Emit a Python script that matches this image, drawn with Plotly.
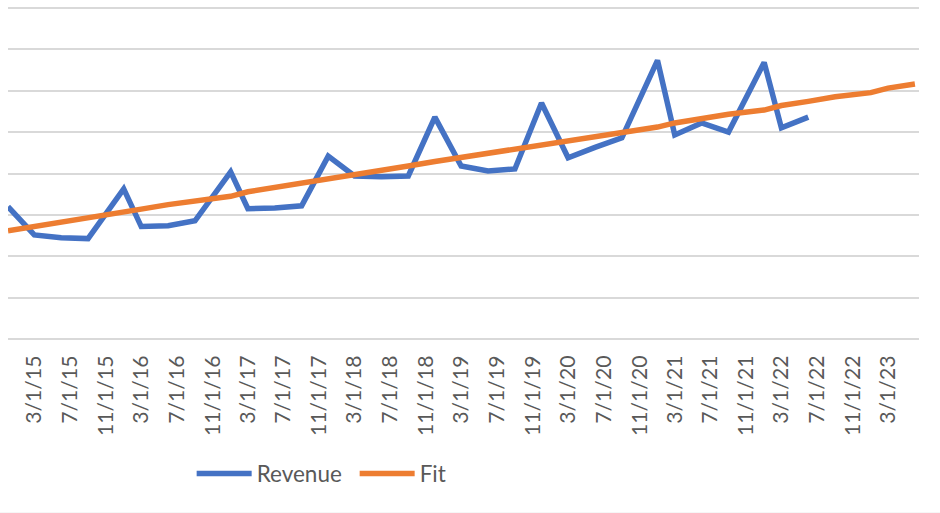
import plotly.graph_objects as go

dates = [
    "2014-12-01", "2015-03-01", "2015-06-01", "2015-09-01",
    "2016-01-01", "2016-03-01", "2016-06-01", "2016-09-01",
    "2017-01-01", "2017-03-01", "2017-06-01", "2017-09-01",
    "2017-12-01", "2018-03-01", "2018-06-01", "2018-09-01",
    "2018-12-01", "2019-03-01", "2019-06-01", "2019-09-01",
    "2019-12-01", "2020-03-01", "2020-06-01", "2020-09-01",
    "2021-01-01", "2021-03-01", "2021-06-01", "2021-09-01",
    "2022-01-01", "2022-03-01", "2022-06-01",
]
fit_dates = dates + ["2022-09-01", "2023-01-01", "2023-03-01", "2023-06-01"]

revenue = [
    3.20, 2.52, 2.45, 2.43,
    3.63, 2.72, 2.74, 2.86,
    4.04, 3.15, 3.17, 3.22,
    4.42, 3.94, 3.92, 3.94,
    5.36, 4.18, 4.06, 4.11,
    5.70, 4.38, 4.63, 4.86,
    6.73, 4.93, 5.22, 5.00,
    6.68, 5.10, 5.36,
]
fit = [
    2.62, 2.72, 2.83, 2.93, 3.04, 3.14, 3.25, 3.35, 3.45, 3.56,
    3.66, 3.77, 3.87, 3.97, 4.08, 4.18, 4.29, 4.39, 4.49, 4.60,
    4.70, 4.81, 4.91, 5.01, 5.12, 5.22, 5.33, 5.43, 5.53, 5.64,
    5.74, 5.85, 5.95, 6.06, 6.16,
]

FONT = "Lato, Carlito, Calibri, sans-serif"
GREY = "#595959"

fig = go.Figure()
fig.add_trace(go.Scatter(x=dates, y=revenue, name="Revenue", mode="lines",
                         line=dict(color="#4472C4", width=5.5)))
fig.add_trace(go.Scatter(x=fit_dates, y=fit, name="Fit", mode="lines",
                         line=dict(color="#ED7D31", width=5.5)))

fig.update_layout(
    width=940, height=513,
    margin=dict(l=8, r=21, t=6, b=172, autoexpand=False),
    paper_bgcolor="white", plot_bgcolor="white",
    font=dict(family=FONT, color=GREY, size=22),
    showlegend=True,
    legend=dict(orientation="h", x=0.2016, xanchor="left", y=-0.397, yanchor="middle",
                font=dict(family=FONT, size=22.5, color=GREY), itemwidth=55,
                entrywidth=93, bgcolor="rgba(0,0,0,0)"),
    xaxis=dict(type="date", range=["2014-12-01", "2023-06-15"], automargin=False,
               tick0="2015-03-01", dtick="M4", tickformat="%-m/%-d/%y",
               tickangle=-90, showgrid=False, zeroline=False, showline=False,
               ticks="outside", ticklen=5, tickcolor="rgba(0,0,0,0)",
               tickfont=dict(family=FONT, size=21.2, color=GREY)),
    yaxis=dict(range=[-0.04, 8.04], dtick=1, showticklabels=False, showgrid=True,
               automargin=False, gridcolor="#d9d9d9", gridwidth=1.5,
               zeroline=False, showline=False),
    shapes=[dict(type="line", xref="paper", yref="paper", x0=-0.01, x1=1.03,
                 y0=-0.515, y1=-0.515, line=dict(color="#d9d9d9", width=1.5))],
)

fig.write_html("out.html", config={"displayModeBar": False},
               post_script="document.body.style.margin='0px';")
